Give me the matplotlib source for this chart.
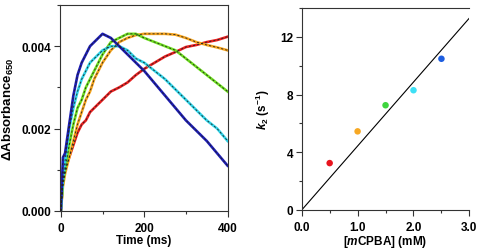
import numpy as np
import matplotlib
matplotlib.use("Agg")
import matplotlib.pyplot as plt
from matplotlib.ticker import MultipleLocator, FormatStrFormatter

plt.rcParams['font.family'] = ['Liberation Sans', 'DejaVu Sans']
plt.rcParams['font.weight'] = 'bold'
plt.rcParams['axes.labelweight'] = 'bold'
plt.rcParams['mathtext.fontset'] = 'custom'
plt.rcParams['mathtext.rm'] = 'Liberation Sans:bold'
plt.rcParams['mathtext.it'] = 'Liberation Sans:italic:bold'
plt.rcParams['mathtext.bf'] = 'Liberation Sans:bold'

# kinetic traces (time in ms, absorbance at 650 nm)
t_ms = [0, 5, 10, 20, 30, 40, 50, 60, 70, 80, 90, 100, 120, 140, 160, 180,
        200, 225, 250, 275, 300, 325, 350, 375, 400]
abs_red = [0, 0.0007, 0.0010, 0.0013, 0.0016, 0.0019, 0.0021, 0.0022, 0.0024,
           0.0025, 0.0026, 0.0027, 0.0029, 0.0030, 0.00312, 0.0033, 0.00345,
           0.0036, 0.00375, 0.00386, 0.00398, 0.00403, 0.0041, 0.00415, 0.00423]
abs_orange = [0, 0.0006, 0.0009, 0.0013, 0.0017, 0.0021, 0.0024, 0.0027, 0.0029,
              0.0032, 0.0034, 0.0036, 0.0039, 0.0041, 0.0042, 0.00427, 0.0043,
              0.0043, 0.0043, 0.00428, 0.0042, 0.0041, 0.00403, 0.00397, 0.0039]
abs_green = [0, 0.0007, 0.0010, 0.0016, 0.0021, 0.0025, 0.0027, 0.0030, 0.0032,
             0.0034, 0.0036, 0.0038, 0.0041, 0.0042, 0.0043, 0.0043, 0.0042,
             0.0041, 0.0040, 0.0039, 0.0037, 0.0035, 0.0033, 0.0031, 0.0029]
abs_cyan = [0, 0.0008, 0.0012, 0.0020, 0.0025, 0.0029, 0.0032, 0.0034, 0.0036,
            0.0037, 0.0038, 0.0039, 0.0040, 0.0040, 0.0039, 0.0037, 0.0036,
            0.0034, 0.0032, 0.00295, 0.0027, 0.00245, 0.0022, 0.0020, 0.0017]
abs_blue = [0, 0.0013, 0.0014, 0.0021, 0.0028, 0.0033, 0.0036, 0.0038, 0.0040,
            0.0041, 0.0042, 0.0043, 0.0042, 0.0040, 0.0038, 0.0036, 0.0034,
            0.0031, 0.0028, 0.0025, 0.0022, 0.00195, 0.0017, 0.0014, 0.0011]

# rate constants vs mCPBA
mcpba = [0.5, 1.0, 1.5, 2.0, 2.5]
k2 = [3.25, 5.45, 7.26, 8.3, 10.48]
fit_x = [0.0, 3.0]
fit_y = [0.0, 13.3]

trace_colors = ['#e81e1e', '#f5a31c', '#6ee01e', '#2ed4e8', '#1c1cb4']
point_colors = ['#e8141e', '#f7a823', '#3ed53e', '#3de0f5', '#1e5ee0']
traces = [abs_red, abs_orange, abs_green, abs_cyan, abs_blue]

fig = plt.figure(figsize=(4.79, 2.51), dpi=100)
ax1 = fig.add_axes([0.1253, 0.1554, 0.3507, 0.8207])
ax2 = fig.add_axes([0.6299, 0.1594, 0.3500, 0.8048])

for ax in (ax1, ax2):
    for s in ax.spines.values():
        s.set_color('#333333')
        s.set_linewidth(0.8)
    ax.tick_params(which='major', direction='out', length=4.3, width=0.8,
                   color='#333333', labelsize=8.5, pad=2)
    ax.tick_params(which='minor', direction='out', length=2.5, width=0.8,
                   color='#333333')
    ax.tick_params(axis='x', which='major', pad=3.5)

# left panel: traces with dashed fits on top
for y, c in zip(traces, trace_colors):
    ax1.plot(t_ms, y, color=c, lw=1.9, zorder=2)
for y in traces:
    ax1.plot(t_ms, y, color='#222222', lw=0.6, dashes=(2.5, 2.5), zorder=3)
ax1.set_xlim(-2, 401)
ax1.set_ylim(0, 0.005)
ax1.xaxis.set_major_locator(MultipleLocator(200))
ax1.xaxis.set_minor_locator(MultipleLocator(100))
ax1.yaxis.set_major_locator(MultipleLocator(0.002))
ax1.yaxis.set_minor_locator(MultipleLocator(0.001))
ax1.yaxis.set_major_formatter(FormatStrFormatter('%.3f'))
ax1.set_xlabel('Time (ms)', fontsize=8.5, labelpad=0)
ax1.set_ylabel('\u0394Absorbance$_{650}$', fontsize=9.5, labelpad=4)

# right panel
ax2.plot(fit_x, fit_y, color='black', lw=0.8, zorder=2)
ax2.scatter(mcpba, k2, c=point_colors, s=22, zorder=3, linewidths=0)
ax2.set_xlim(0, 3.0)
ax2.set_ylim(0, 14)
ax2.spines['right'].set_visible(False)
ax2.xaxis.set_major_locator(MultipleLocator(1.0))
ax2.xaxis.set_minor_locator(MultipleLocator(0.5))
ax2.yaxis.set_major_locator(MultipleLocator(4))
ax2.yaxis.set_minor_locator(MultipleLocator(2))
ax2.xaxis.set_major_formatter(FormatStrFormatter('%.1f'))
ax2.set_xlabel('[$m$CPBA] (mM)', fontsize=8.5, labelpad=0)
ax2.set_ylabel('$k_2$ (s$^{-1}$)', fontsize=8.5, labelpad=6)

fig.savefig('out.png', dpi=100)
